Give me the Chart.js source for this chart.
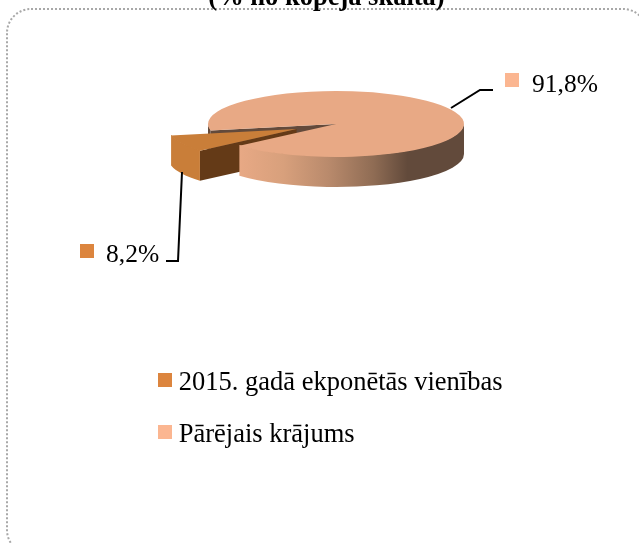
<!DOCTYPE html>
<html><head><meta charset="utf-8">
<style>html,body{margin:0;padding:0;background:#fff}#w{width:639px;height:543px;position:relative}</style>
<script src="https://cdn.jsdelivr.net/npm/chart.js@4"></script>
</head><body><div id="w"><canvas id="c" width="639" height="543"></canvas></div>
<script>
const categories = ['2015. gadā ekponētās vienības', 'Pārējais krājums'];
const values = [8.2, 91.8];
const titleText = '(% no kopējā skaita)';
const topColors = ['#C97E39', '#E8A985'];
const keyColors = ['#DC853E', '#FBB691'];
const FONT = '"Liberation Serif","Times New Roman",serif';

const PIE = {cx:336, cy:124, r:128, k:33/128, depth:30, explode:[44,0]};

function keyImage(color){
  const c = document.createElement('canvas');
  c.width = 14; c.height = 20;
  const x = c.getContext('2d');
  x.fillStyle = color; x.fillRect(0,0,14,14);
  return c;
}
function wall(ctx, a1, a2, dx, dy){
  const {cx,cy,r,k,depth} = PIE;
  ctx.beginPath();
  ctx.ellipse(cx+dx,cy+dy-0.75,r,r*k,0,a1,a2,false);
  ctx.ellipse(cx+dx,cy+dy+depth,r,r*k,0,a2,a1,true);
  ctx.closePath();
  ctx.fill();
}
function face(ctx, a, dx, dy){
  const {cx,cy,r,k,depth} = PIE;
  const x = cx+dx+Math.cos(a)*r, y = cy+dy+Math.sin(a)*r*k;
  ctx.beginPath();
  ctx.moveTo(cx+dx,cy+dy); ctx.lineTo(x,y); ctx.lineTo(x,y+depth); ctx.lineTo(cx+dx,cy+dy+depth);
  ctx.closePath(); ctx.fill();
}
function drawTop(ctx, arc, dx, dy){
  ctx.save();
  ctx.translate(PIE.cx+dx, PIE.cy+dy);
  ctx.scale(1, PIE.k);
  ctx.translate(-arc.x, -arc.y);
  arc.draw(ctx);
  ctx.restore();
}
const pie3d = {
  id:'pie3d',
  beforeDraw(chart){
    const ctx = chart.ctx;
    ctx.save();
    ctx.strokeStyle='#a8a8a8'; ctx.lineWidth=2; ctx.setLineDash([2,2]);
    ctx.beginPath(); ctx.roundRect(7,9,640,545,24); ctx.stroke();
    ctx.restore();
    ctx.save();
    ctx.fillStyle='#000'; ctx.font='bold 26.5px '+FONT; ctx.textAlign='center'; ctx.textBaseline='alphabetic';
    ctx.fillText(titleText,326.5,5);
    ctx.restore();
  },
  beforeDatasetDraw(chart){
    const ctx = chart.ctx, meta = chart.getDatasetMeta(0);
    const [small,big] = meta.data;
    const mid = (small.startAngle+small.endAngle)/2;
    const ex = PIE.explode[0];
    const dx = Math.cos(mid)*ex, dy = Math.sin(mid)*ex*PIE.k;
    const norm = a => ((a%(2*Math.PI))+2*Math.PI)%(2*Math.PI);
    const a0 = norm(small.startAngle), a1 = norm(small.endAngle);
    ctx.save();
    ctx.fillStyle='#634A3B';
    face(ctx,a1,0,0);
    wall(ctx,a1,Math.PI,0,0);
    ctx.fillStyle='#643A17';
    face(ctx,a0,dx,dy);
    ctx.fillStyle=topColors[0];
    wall(ctx,a0,a1,dx,dy);
    ctx.restore();
    drawTop(ctx,small,dx,dy);
    ctx.save();
    const g = ctx.createLinearGradient(238,0,464,0);
    g.addColorStop(0,'#E8A985');
    g.addColorStop(0.2,'#D8A07C');
    g.addColorStop(0.4,'#B98A6C');
    g.addColorStop(0.6,'#8F6C54');
    g.addColorStop(0.75,'#624A3B');
    g.addColorStop(1,'#624A3B');
    ctx.fillStyle=g;
    wall(ctx,0,a0,0,0);
    ctx.restore();
    drawTop(ctx,big,0,0);
    return false;
  },
  afterDraw(chart){
    const ctx = chart.ctx;
    ctx.save();
    ctx.strokeStyle='#000'; ctx.lineWidth=2; ctx.lineJoin='miter';
    ctx.beginPath(); ctx.moveTo(451,108); ctx.lineTo(480,90); ctx.lineTo(493,90); ctx.stroke();
    ctx.beginPath(); ctx.moveTo(182,172); ctx.lineTo(178,261); ctx.lineTo(166,261); ctx.stroke();
    ctx.font='25.5px '+FONT; ctx.textBaseline='alphabetic'; ctx.textAlign='left';
    const fmt = v => v.toFixed(1).replace('.',',')+'%';
    ctx.fillStyle=keyColors[1]; ctx.fillRect(505,73,14,14);
    ctx.fillStyle='#000'; ctx.fillText(fmt(values[1]),532,92);
    ctx.fillStyle=keyColors[0]; ctx.fillRect(80,244,14,14);
    ctx.fillStyle='#000'; ctx.fillText(fmt(values[0]),106,262);
    ctx.restore();
  }
};

new Chart(document.getElementById('c'),{
  type:'pie',
  data:{labels:categories,datasets:[{data:values,backgroundColor:topColors,borderWidth:0}]},
  plugins:[pie3d],
  options:{
    responsive:false,animation:false,
    rotation:229,
    radius:128,
    layout:{padding:{left:139,top:275,right:0,bottom:0}},
    plugins:{
      title:{display:false},tooltip:{enabled:false},
      legend:{
        position:'left',align:'center',maxWidth:440,
        labels:{
          font:{family:FONT,size:26.5},color:'#000',usePointStyle:true,pointStyleWidth:1,boxHeight:14,padding:25.5,
          generateLabels(chart){
            return chart.data.labels.map((t,i)=>({text:t,fillStyle:keyColors[i],strokeStyle:keyColors[i],lineWidth:0,index:i,pointStyle:keyImage(keyColors[i])}));
          }
        }
      }
    }
  }
});
</script></body></html>
